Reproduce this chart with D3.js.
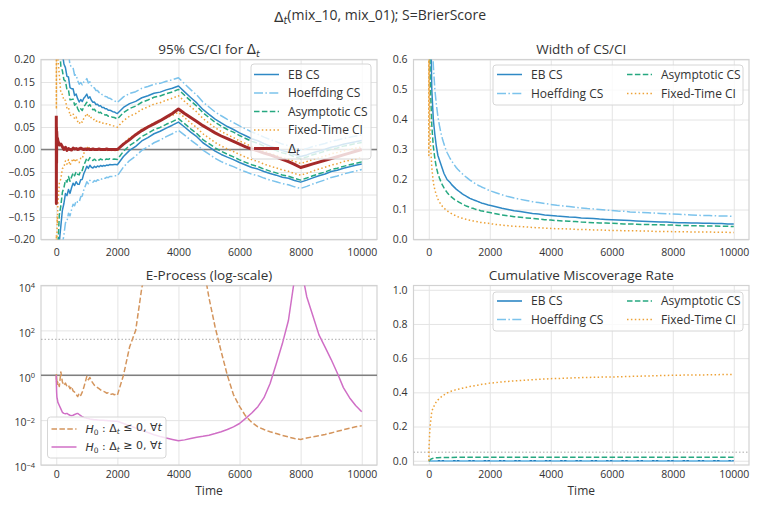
<!DOCTYPE html>
<html><head><meta charset="utf-8">
<script src="https://cdn.jsdelivr.net/npm/d3@7"></script>
<style>
body{margin:0;background:#fff;}
svg text{font-family:'Open Sans',Lato,sans-serif;fill:#333;}
</style></head><body>
<svg id="c" width="765" height="510"></svg>
<script>
// ---------------- DATA ----------------
const times = [1,3,6,10,15,20,30,40,
 50,100,150,200,250,300,350,400,450,500,550,600,650,700,750,800,850,900,950,1000,
 1050,1100,1150,1200,1250,1300,1350,1400,1450,1500,1550,1600,1650,1700,1750,1800,1850,1900,1950,2000,
 2200,2400,2600,2800,3000,3200,3400,3600,3800,4000,4200,4400,4600,4800,5000,5200,5400,5600,5800,6000,
 6200,6400,6600,6800,7000,7200,7400,7600,7800,8000,8200,8400,8600,8800,9000,9200,9400,9600,9800,10000];

// running estimate (centre of every CS/CI)
const estimate = [0.1,-0.05,0.08,-0.02,0.05,0.03,0.06,0.02,
 0.04,0.045,0.03,0.04,0.035,0.042,0.03,0.036,0.02,0.025,0.03,0.02,0.026,0.018,0.014,0.022,0.02,0.03,0.036,0.043,
 0.036,0.041,0.035,0.032,0.034,0.03,0.032,0.029,0.031,0.028,0.029,0.027,0.028,0.026,0.027,0.026,0.025,0.025,0.024,0.023,
 0.039,0.05,0.057,0.067,0.073,0.08,0.084,0.09,0.095,0.101,0.089,0.077,0.066,0.052,0.042,0.032,0.024,0.017,0.011,0.004,
 -0.002,-0.008,-0.012,-0.018,-0.023,-0.027,-0.032,-0.035,-0.04,-0.044,-0.04,-0.035,-0.031,-0.027,-0.022,-0.019,-0.015,-0.012,-0.009,-0.006];

// Delta_t (thick red)
const deltaT = [0.075,-0.12,0.05,-0.03,0.04,0.03,0.02,0.025,
 0.02,0.01,0.012,0.006,0.0,0.005,-0.002,0.002,0.0,-0.001,0.003,0.001,0.002,0.0,0.001,0.003,0.001,0.0,0.001,0.0,
 0.001,0.0,0.0,0.001,0.0,0.0,0.0,0.001,0.0,0.0,0.0,0.0,0.001,0.0,0.0,0.0,0.0,0.0,0.0,0.0,
 0.012,0.022,0.033,0.042,0.05,0.057,0.064,0.072,0.08,0.09,0.08,0.071,0.062,0.053,0.045,0.037,0.03,0.024,0.018,0.012,
 0.006,0.001,-0.003,-0.008,-0.012,-0.017,-0.022,-0.027,-0.033,-0.04,-0.036,-0.032,-0.028,-0.024,-0.02,-0.016,-0.012,-0.008,-0.004,0.0];

// widths of the CS/CI
const widthEB = [5,3,2.5,2,1.6,1.4,1.1,0.9,
 0.8,0.5,0.4,0.35,0.31,0.28,0.265,0.25,0.235,0.22,0.21,0.2,0.195,0.19,0.183,0.178,0.173,0.168,0.164,0.16,
 0.156,0.152,0.149,0.146,0.143,0.14,0.137,0.135,0.133,0.131,0.129,0.127,0.125,0.123,0.121,0.12,0.118,0.117,0.115,0.114,
 0.109,0.104,0.1,0.096,0.093,0.09,0.087,0.085,0.082,0.08,0.078,0.077,0.075,0.074,0.072,0.071,0.07,0.068,0.067,0.066,
 0.065,0.064,0.063,0.062,0.061,0.06,0.059,0.058,0.058,0.057,0.056,0.056,0.055,0.055,0.054,0.054,0.053,0.053,0.052,0.052];
const widthHoeffding = [6,4,3,2.5,2,1.8,1.5,1.3,
 1.1,0.72,0.58,0.5,0.45,0.41,0.38,0.355,0.335,0.318,0.303,0.29,0.28,0.27,0.262,0.254,0.247,0.24,0.234,0.229,
 0.224,0.219,0.214,0.21,0.206,0.202,0.198,0.195,0.191,0.188,0.185,0.182,0.179,0.177,0.174,0.172,0.17,0.167,0.165,0.163,
 0.156,0.149,0.143,0.138,0.134,0.13,0.126,0.123,0.12,0.117,0.114,0.112,0.11,0.107,0.105,0.103,0.102,0.1,0.098,0.097,
 0.095,0.094,0.092,0.091,0.09,0.089,0.088,0.087,0.086,0.085,0.084,0.083,0.082,0.081,0.08,0.08,0.079,0.078,0.078,0.077];
const widthAsymptotic = [3,2,1.5,1.2,1.0,0.85,0.7,0.6,
 0.52,0.38,0.31,0.27,0.24,0.22,0.205,0.192,0.181,0.172,0.164,0.157,0.151,0.146,0.141,0.137,0.133,0.13,0.127,0.124,
 0.121,0.118,0.116,0.113,0.111,0.109,0.107,0.105,0.104,0.102,0.1,0.099,0.098,0.096,0.095,0.094,0.093,0.092,0.091,0.09,
 0.086,0.082,0.079,0.076,0.074,0.072,0.07,0.068,0.066,0.065,0.063,0.062,0.061,0.06,0.058,0.057,0.056,0.055,0.055,0.054,
 0.053,0.052,0.052,0.051,0.05,0.05,0.049,0.049,0.048,0.048,0.047,0.047,0.046,0.046,0.045,0.045,0.045,0.044,0.044,0.043];
const widthFixed = [2,0.28,0.9,0.7,0.6,0.5,0.42,0.37,
 0.33,0.24,0.19,0.165,0.148,0.135,0.125,0.117,0.11,0.105,0.1,0.096,0.092,0.089,0.086,0.083,0.081,0.078,0.076,0.074,
 0.072,0.071,0.069,0.068,0.066,0.065,0.064,0.063,0.062,0.061,0.06,0.059,0.058,0.057,0.056,0.056,0.055,0.054,0.054,0.053,
 0.05,0.048,0.046,0.044,0.043,0.042,0.04,0.039,0.038,0.037,0.036,0.036,0.035,0.034,0.033,0.033,0.032,0.032,0.031,0.03,
 0.03,0.029,0.029,0.029,0.028,0.028,0.027,0.027,0.027,0.026,0.026,0.026,0.025,0.025,0.025,0.025,0.024,0.024,0.024,0.023];

// e-processes, log10 values
const eprocLeLog10 = [0.05,-0.2,0.0,-0.3,-0.1,-0.35,-0.2,-0.4,
 -0.3,-0.5,0.15,-0.3,-0.45,-0.35,-0.5,-0.45,-0.6,-0.5,-0.7,-0.75,-0.85,-0.95,-0.8,-0.9,-0.75,-0.55,-0.3,-0.05,
 -0.2,-0.1,-0.25,-0.35,-0.45,-0.5,-0.55,-0.6,-0.65,-0.7,-0.72,-0.75,-0.8,-0.78,-0.82,-0.85,-0.83,-0.87,-0.85,-0.89,
 0.0,1.26,2.0,3.9,5.0,5.8,6.4,6.8,7.0,7.1,6.6,6.0,5.3,5.0,3.45,2.15,1.05,0.0,-0.86,-1.39,
 -1.82,-2.1,-2.3,-2.42,-2.52,-2.6,-2.68,-2.75,-2.82,-2.86,-2.8,-2.74,-2.7,-2.64,-2.57,-2.5,-2.43,-2.36,-2.3,-2.25];
const eprocGeLog10 = [0.0,-0.3,-0.5,-0.7,-0.85,-0.96,-1.05,-1.1,
 -1.2,-1.35,-1.5,-1.65,-1.7,-1.72,-1.7,-1.75,-1.78,-1.8,-1.78,-1.75,-1.72,-1.7,-1.75,-1.8,-1.85,-1.88,-1.9,-1.92,
 -1.93,-1.95,-1.96,-1.97,-1.98,-1.98,-1.99,-2.0,-2.0,-2.01,-2.01,-2.02,-2.02,-2.03,-2.03,-2.04,-2.04,-2.05,-2.05,-2.05,
 -2.15,-2.25,-2.35,-2.45,-2.55,-2.65,-2.73,-2.8,-2.86,-2.92,-2.88,-2.82,-2.76,-2.72,-2.67,-2.6,-2.52,-2.42,-2.3,-2.15,
 -1.92,-1.68,-1.4,-1.0,-0.37,0.5,1.4,2.44,4.3,4.9,3.5,2.65,1.8,1.25,0.7,0.1,-0.55,-1.0,-1.35,-1.63];

// cumulative miscoverage
const missFixed = [0,0,0.05,0.08,0.1,0.12,0.16,0.19,
 0.21,0.29,0.31,0.33,0.345,0.355,0.365,0.372,0.38,0.385,0.39,0.396,0.4,0.404,0.408,0.411,0.413,0.416,0.418,0.42,
 0.422,0.424,0.426,0.428,0.43,0.432,0.434,0.436,0.437,0.439,0.441,0.442,0.444,0.445,0.447,0.448,0.449,0.451,0.452,0.454,
 0.457,0.461,0.464,0.467,0.469,0.472,0.474,0.476,0.478,0.48,0.481,0.482,0.484,0.485,0.486,0.487,0.488,0.489,0.49,0.49,
 0.491,0.492,0.493,0.494,0.495,0.496,0.497,0.498,0.499,0.5,0.5,0.501,0.501,0.502,0.502,0.503,0.503,0.504,0.504,0.505];
const missTimes = [1,20,50,100,150,200,300,500,1000,2000,4000,6000,8000,10000];
const missAsymptotic = [0,0,0.006,0.012,0.015,0.017,0.018,0.019,0.02,0.02,0.021,0.021,0.021,0.021];
const missEB = [0,0,0,0,0,0,0,0,0,0,0,0,0,0];
const missHoeffding = [0,0,0,0,0,0,0,0,0,0,0,0,0,0];

const xTicks = [0,2000,4000,6000,8000,10000];
const csTicks = [-0.20,-0.15,-0.10,-0.05,0.00,0.05,0.10,0.15,0.20];
const widthTicks = [0,0.1,0.2,0.3,0.4,0.5,0.6];
const eTicks = [-4,-2,0,2,4];
const missTicks = [0,0.2,0.4,0.6,0.8,1.0];
const alpha = 0.025;   // e-process threshold 1/alpha
const nominal = 0.05;  // nominal miscoverage

// ---------------- STYLE ----------------
const svg = d3.select('#c');
const GRID = '#e4e4e4', SPINE = '#d2d2d2';
const col = {eb:'#2f89c5', hoef:'#7cc3ec', asym:'#26a880', fixed:'#eda237', delta:'#a52a2a', e1:'#d4955d', e2:'#d06fc6'};
const DASH = {solid:null, dashdot:'9,2.4,1.5,2.4', dashed:'5.5,2.4', dotted:'1.5,2.4'};
const TICKFS = 10.5, LEGFS = 12, TITLEFS = 13.5;

let clipId = 0;
function makePanel(p) {
  const g = svg.append('g');
  const x = d3.scaleLinear().domain([-500, 10500]).range([p.x0, p.x1]);
  const y = (p.log ? d3.scaleLog() : d3.scaleLinear()).domain(p.yd).range([p.y1, p.y0]);
  const ax = g.append('g').attr('transform', `translate(0,${p.y1})`)
    .call(d3.axisBottom(x).tickValues(xTicks).tickSize(-(p.y1 - p.y0)).tickPadding(p.xpad).tickFormat(d3.format('d')));
  const ay = g.append('g').attr('transform', `translate(${p.x0},0)`)
    .call(d3.axisLeft(y).tickValues(p.yt).tickSize(-(p.x1 - p.x0)).tickPadding(6).tickFormat(p.log ? () => '' : p.yf));
  [ax, ay].forEach(a => {
    a.select('.domain').remove();
    a.selectAll('line').attr('stroke', GRID).attr('stroke-width', 1);
    a.selectAll('text').style('font-size', TICKFS + 'px').attr('fill', '#333');
  });
  if (p.log) {
    ay.selectAll('.tick text').each(function(d) {
      const t = d3.select(this);
      t.text(null);
      t.append('tspan').text('10');
      t.append('tspan').attr('dy', '-0.45em').style('font-size', '7.5px').text(String(Math.round(Math.log10(d))).replace('-', '\u2212'));
    });
    ay.selectAll('.tick text').attr('dy', '0.55em');
  }
  g.append('rect').attr('x', p.x0).attr('y', p.y0).attr('width', p.x1 - p.x0).attr('height', p.y1 - p.y0)
    .attr('fill', 'none').attr('stroke', SPINE).attr('stroke-width', 1.2);
  const id = 'clip' + (clipId++);
  svg.append('clipPath').attr('id', id).append('rect')
    .attr('x', p.x0).attr('y', p.y0).attr('width', p.x1 - p.x0).attr('height', p.y1 - p.y0);
  const plot = g.append('g').attr('clip-path', `url(#${id})`);
  const tt = g.append('text').attr('x', (p.x0 + p.x1) / 2).attr('y', p.y0 - 5.5).attr('text-anchor', 'middle')
    .style('font-size', TITLEFS + 'px');
  p.title(tt);
  if (p.xlabel) g.append('text').attr('x', (p.x0 + p.x1) / 2).attr('y', p.y1 + 29.5).attr('text-anchor', 'middle')
    .style('font-size', '12px').text(p.xlabel);
  return {g, plot, x, y};
}

function drawLine(plot, x, y, xs, ys, color, dash, w) {
  const pts = xs.map((t, i) => [t, ys[i]]);
  plot.append('path').datum(pts)
    .attr('d', d3.line().x(d => x(d[0])).y(d => y(d[1])))
    .attr('fill', 'none').attr('stroke', color).attr('stroke-width', w || 1.5)
    .attr('stroke-dasharray', dash).attr('stroke-linejoin', 'round');
}

function legend(g, box, items) {
  g.append('rect').attr('x', box.x).attr('y', box.y).attr('width', box.w).attr('height', box.h)
    .attr('rx', 3).attr('fill', 'white').attr('fill-opacity', 0.8).attr('stroke', '#d6d6d6').attr('stroke-width', 1);
  items.forEach(it => {
    g.append('line').attr('x1', it.x).attr('x2', it.x + 25).attr('y1', it.y).attr('y2', it.y)
      .attr('stroke', it.color).attr('stroke-width', it.w || 1.5).attr('stroke-dasharray', it.dash);
    const t = g.append('text').attr('x', it.x + 34).attr('y', it.y).attr('dy', '0.36em').style('font-size', LEGFS + 'px');
    it.label(t);
  });
}
function plain(s) { return t => t.text(s); }
function deltaSub(t, size) {
  t.append('tspan').style('font-family', 'DejaVu Sans').text('\u0394');
  t.append('tspan').attr('dy', '0.3em').style('font-family', 'DejaVu Sans').style('font-style', 'italic')
    .style('font-size', (size * 0.7) + 'px').text('t');
}
function hyp(sym) {
  return t => {
    t.style('font-family', 'DejaVu Sans').style('font-size', '11px');
    t.append('tspan').style('font-style', 'italic').text('H');
    t.append('tspan').attr('dy', '0.3em').style('font-size', '7.5px').text('0');
    t.append('tspan').attr('dy', '-0.3em').text(' : \u0394');
    t.append('tspan').attr('dy', '0.3em').style('font-size', '7.5px').style('font-style', 'italic').text('t');
    t.append('tspan').attr('dy', '-0.3em').text(' ' + sym + ' 0, \u2200');
    t.append('tspan').style('font-style', 'italic').text('t');
  };
}

// ---------------- MAIN TITLE ----------------
const mt = svg.append('text').attr('x', 380).attr('y', 21.5).attr('text-anchor', 'middle').style('font-size', '14px');
deltaSub(mt, 14);
mt.append('tspan').attr('dy', '-0.3em').text('(mix_10, mix_01); S=BrierScore');

const fmt2 = d => d3.format('.2f')(d).replace('-', '\u2212');
const fmt1 = d => d3.format('.1f')(d);

// ---------------- PANEL 1: CS/CI ----------------
{
  const P = makePanel({x0: 41, x1: 377, y0: 59.5, y1: 239.5, yd: [-0.2, 0.2], yt: csTicks, yf: fmt2, xpad: 9,
    title: t => { t.append('tspan').text('95% CS/CI for '); deltaSub(t, TITLEFS); }});
  const {plot, x, y} = P;
  plot.append('line').attr('x1', 41).attr('x2', 377).attr('y1', y(0)).attr('y2', y(0))
    .attr('stroke', '#7f7f7f').attr('stroke-width', 1.5);
  const methods = [
    [widthHoeffding, col.hoef, DASH.dashdot],
    [widthEB, col.eb, DASH.solid],
    [widthAsymptotic, col.asym, DASH.dashed],
    [widthFixed, col.fixed, DASH.dotted]];
  methods.forEach(([w, c, d]) => {
    drawLine(plot, x, y, times, estimate.map((e, i) => e + w[i] / 2), c, d, 1.5);
    drawLine(plot, x, y, times, estimate.map((e, i) => e - w[i] / 2), c, d, 1.5);
  });
  drawLine(plot, x, y, times, deltaT, col.delta, null, 3);
  legend(P.g, {x: 251, y: 64, w: 120, h: 95}, [
    {x: 254, y: 74.5, color: col.eb, dash: DASH.solid, label: plain('EB CS')},
    {x: 254, y: 93, color: col.hoef, dash: DASH.dashdot, label: plain('Hoeffding CS')},
    {x: 254, y: 111.5, color: col.asym, dash: DASH.dashed, label: plain('Asymptotic CS')},
    {x: 254, y: 130, color: col.fixed, dash: DASH.dotted, label: plain('Fixed-Time CI')},
    {x: 254, y: 148.5, color: col.delta, dash: null, w: 3, label: t => deltaSub(t, LEGFS)}]);
}

// ---------------- PANEL 2: widths ----------------
{
  const P = makePanel({x0: 413.5, x1: 749, y0: 59.5, y1: 239.5, yd: [0, 0.6], yt: widthTicks, yf: fmt1, xpad: 9,
    title: t => t.text('Width of CS/CI')});
  const {plot, x, y} = P;
  drawLine(plot, x, y, times, widthHoeffding, col.hoef, DASH.dashdot);
  drawLine(plot, x, y, times, widthEB, col.eb, DASH.solid);
  drawLine(plot, x, y, times, widthAsymptotic, col.asym, DASH.dashed);
  drawLine(plot, x, y, times, widthFixed, col.fixed, DASH.dotted);
  legend(P.g, {x: 493, y: 65, w: 250, h: 40}, [
    {x: 497, y: 74.5, color: col.eb, dash: DASH.solid, label: plain('EB CS')},
    {x: 497, y: 93.5, color: col.hoef, dash: DASH.dashdot, label: plain('Hoeffding CS')},
    {x: 627, y: 74.5, color: col.asym, dash: DASH.dashed, label: plain('Asymptotic CS')},
    {x: 627, y: 93.5, color: col.fixed, dash: DASH.dotted, label: plain('Fixed-Time CI')}]);
}

// ---------------- PANEL 3: e-process ----------------
{
  const P = makePanel({x0: 41, x1: 377, y0: 285.5, y1: 465, yd: [1e-4, 1e4], log: true, yt: eTicks.map(e => Math.pow(10, e)), xpad: 6,
    xlabel: 'Time', title: t => t.text('E-Process (log-scale)')});
  const {plot, x, y} = P;
  plot.append('line').attr('x1', 41).attr('x2', 377).attr('y1', y(1)).attr('y2', y(1))
    .attr('stroke', '#7f7f7f').attr('stroke-width', 1.5);
  plot.append('line').attr('x1', 41).attr('x2', 377).attr('y1', y(1 / alpha)).attr('y2', y(1 / alpha))
    .attr('stroke', '#aaaaaa').attr('stroke-width', 1).attr('stroke-dasharray', '1.5,2');
  const clampLog = v => Math.pow(10, Math.min(v, 8));
  drawLine(plot, x, y, times, eprocLeLog10.map(clampLog), col.e1, DASH.dashed);
  drawLine(plot, x, y, times, eprocGeLog10.map(clampLog), col.e2, null);
  legend(P.g, {x: 47.5, y: 417, w: 118.5, h: 41}, [
    {x: 51.5, y: 429, color: col.e1, dash: DASH.dashed, label: hyp('\u2264')},
    {x: 51.5, y: 447, color: col.e2, dash: null, label: hyp('\u2265')}]);
}

// ---------------- PANEL 4: miscoverage ----------------
{
  const P = makePanel({x0: 413.5, x1: 749, y0: 285.5, y1: 465, yd: [-0.025, 1.025], yt: missTicks, yf: fmt1, xpad: 6,
    xlabel: 'Time', title: t => t.text('Cumulative Miscoverage Rate')});
  const {plot, x, y} = P;
  plot.append('line').attr('x1', 413.5).attr('x2', 749).attr('y1', y(nominal)).attr('y2', y(nominal))
    .attr('stroke', '#aaaaaa').attr('stroke-width', 1).attr('stroke-dasharray', '1.5,2');
  drawLine(plot, x, y, missTimes, missEB, '#1f7fc0', DASH.solid);
  drawLine(plot, x, y, missTimes, missHoeffding, col.hoef, DASH.dashdot);
  drawLine(plot, x, y, missTimes, missAsymptotic, col.asym, DASH.dashed);
  drawLine(plot, x, y, times, missFixed, col.fixed, DASH.dotted);
  legend(P.g, {x: 493, y: 292, w: 250, h: 39}, [
    {x: 497, y: 301, color: '#1f7fc0', dash: DASH.solid, label: plain('EB CS')},
    {x: 497, y: 319.5, color: col.hoef, dash: DASH.dashdot, label: plain('Hoeffding CS')},
    {x: 627, y: 301, color: col.asym, dash: DASH.dashed, label: plain('Asymptotic CS')},
    {x: 627, y: 319.5, color: col.fixed, dash: DASH.dotted, label: plain('Fixed-Time CI')}]);
}
</script>
</body></html>
